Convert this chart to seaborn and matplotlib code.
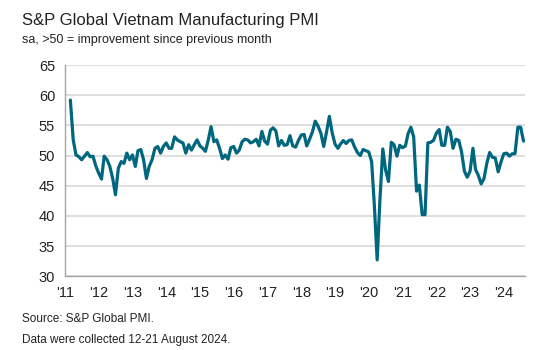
import numpy as np
import pandas as pd
import seaborn as sns
import matplotlib.pyplot as plt
import matplotlib.dates as mdates

# monthly PMI readings (Mar 2011 - Aug 2024)
pmi_2011 = [59.2, 52.6, 50.1, 49.8, 49.3, 49.9, 50.5, 49.8, 49.9, 48.3]
pmi_2012 = [47.1, 46.1, 49.9, 49.3, 48.2, 46.2, 43.5, 47.9, 49.0, 48.7, 50.4, 49.3]
pmi_2013 = [50.1, 48.2, 50.8, 51.0, 49.3, 46.2, 48.2, 49.3, 51.2, 51.5, 50.4, 51.5]
pmi_2014 = [52.1, 51.2, 51.2, 53.1, 52.6, 52.3, 52.1, 50.4, 51.8, 50.9, 51.8, 52.6]
pmi_2015 = [51.6, 51.2, 50.7, 52.6, 54.8, 52.3, 52.6, 51.2, 49.5, 50.1, 49.4, 51.3]
pmi_2016 = [51.5, 50.4, 50.9, 52.3, 52.7, 52.6, 52.1, 52.3, 52.7, 51.6, 54.0, 52.4]
pmi_2017 = [51.9, 54.2, 54.6, 54.1, 51.6, 52.5, 51.7, 51.8, 53.3, 51.6, 51.4, 52.5]
pmi_2018 = [53.4, 53.5, 51.6, 52.7, 53.9, 55.7, 54.9, 53.7, 51.5, 53.9, 56.5, 53.8]
pmi_2019 = [51.9, 51.2, 51.9, 52.5, 52.0, 52.5, 52.6, 51.4, 50.5, 50.0, 51.0, 50.8]
pmi_2020 = [50.6, 49.0, 41.9, 32.7, 42.7, 51.1, 47.6, 45.7, 52.2, 51.8, 49.9, 51.7]
pmi_2021 = [51.3, 51.6, 53.6, 54.7, 53.1, 44.1, 45.1, 40.2, 40.2, 52.1, 52.2, 52.5]
pmi_2022 = [53.7, 54.3, 51.7, 51.7, 54.7, 54.0, 51.2, 52.7, 52.5, 50.6, 47.4, 46.4]
pmi_2023 = [47.4, 51.2, 47.7, 46.7, 45.3, 46.2, 48.7, 50.5, 49.7, 49.6, 47.3, 48.9]
pmi_2024 = [50.3, 50.4, 49.9, 50.3, 50.3, 54.7, 54.7, 52.4]

y_ticks = [30, 35, 40, 45, 50, 55, 60, 65]

values = (pmi_2011 + pmi_2012 + pmi_2013 + pmi_2014 + pmi_2015 + pmi_2016
          + pmi_2017 + pmi_2018 + pmi_2019 + pmi_2020 + pmi_2021 + pmi_2022
          + pmi_2023 + pmi_2024)
df = pd.DataFrame({
    "date": pd.date_range("2011-03-01", periods=len(values), freq="MS"),
    "pmi": values,
})

sns.set_style("white")
plt.rcParams["font.family"] = ["Liberation Sans", "DejaVu Sans"]

fig = plt.figure(figsize=(5.5, 3.5), dpi=100)
ax = fig.add_axes([0.118, 0.211, 0.837, 0.603])

sns.lineplot(data=df, x="date", y="pmi", ax=ax, color="#00677f", linewidth=2.3)

ax.set_ylim(30, 65)
ax.set_yticks(y_ticks)
ax.set_xlim(pd.Timestamp("2011-01-01"), pd.Timestamp("2024-08-20"))
ax.xaxis.set_major_locator(mdates.YearLocator())
ax.xaxis.set_major_formatter(mdates.DateFormatter("'%y"))

ax.grid(axis="y", color="#d9d9d9", linewidth=1.2)
ax.set_axisbelow(True)
for side in ["top", "right"]:
    ax.spines[side].set_visible(False)
for side in ["left", "bottom"]:
    ax.spines[side].set_color("#a6a6a6")
    ax.spines[side].set_linewidth(1.0)
ax.tick_params(axis="both", which="major", direction="out", length=4,
               color="#a6a6a6", labelsize=10.5, labelcolor="#222222", pad=3)
ax.set_xlabel("")
ax.set_ylabel("")

fig.text(0.04, 0.94, "S&P Global Vietnam Manufacturing PMI", fontsize=12,
         color="#222222", va="center")
fig.text(0.04, 0.885, "sa, >50 = improvement since previous month", fontsize=9,
         color="#222222", va="center")
fig.text(0.04, 0.088, "Source: S&P Global PMI.", fontsize=8.5,
         color="#222222", va="center")
fig.text(0.04, 0.03, "Data were collected 12-21 August 2024.", fontsize=8.5,
         color="#222222", va="center")

fig.savefig("out.png", dpi=100)
